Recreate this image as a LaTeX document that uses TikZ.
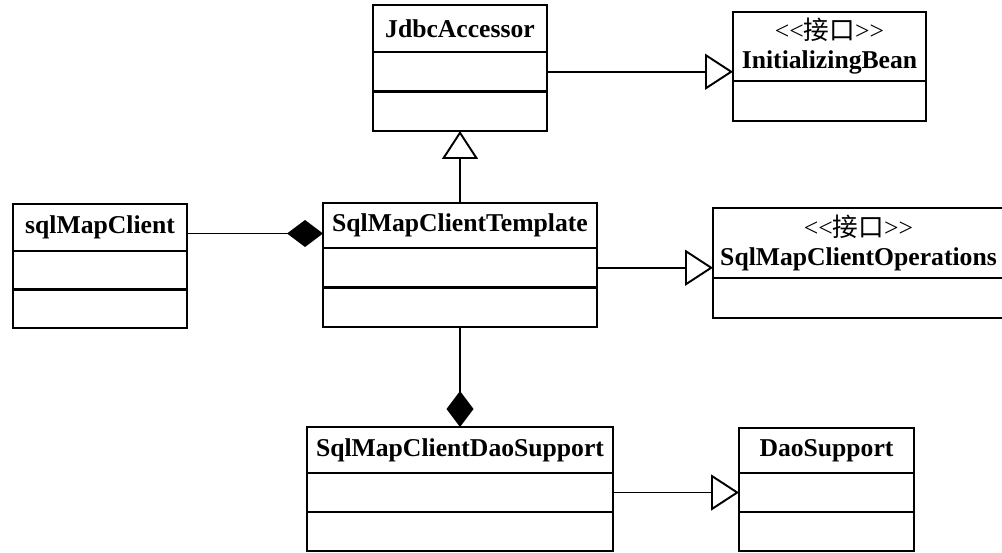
\documentclass[tikz,border=0pt]{standalone}
\usepackage{fontspec}
\setmainfont{Liberation Serif}
\newfontfamily\cjk{Noto Sans CJK SC}
\usepackage{tikz}
\usetikzlibrary{positioning, arrows.meta}
\tikzset{classname/.style={draw, rectangle, line width=1.5pt, inner sep=0pt, outer sep=0pt, align=center, font=\bfseries\fontsize{14.6}{16.5}\selectfont}}
\tikzset{classpart/.style={draw, rectangle, line width=1.5pt, inner sep=0pt, outer sep=0pt}}
\tikzset{inherit/.style={-{Triangle[open, length=0.56cm, width=0.72cm]}, line width=1.1pt}}
\tikzset{compose/.style={-{Diamond[length=0.72cm, width=0.54cm]}, line width=1.1pt}}

\begin{document}
\begin{tikzpicture}
\useasboundingbox (0,0) rectangle (20.04,-11.06);

\node[classname, minimum width=3.48cm, minimum height=0.94cm] (jdbc) at (9.2,-0.57) {JdbcAccessor};
\node[classpart, minimum width=3.48cm, minimum height=0.79cm, below = 0 of jdbc] (jdbc1) {};
\node[classpart, minimum width=3.48cm, minimum height=0.79cm, below = 0 of jdbc1] (jdbc2) {};

\node[classname, minimum width=3.86cm, minimum height=1.38cm] (ib) at (16.59,-0.93) {{\mdseries <{}<{\cjk 接口}>{}>}\\ InitializingBean};
\node[classpart, minimum width=3.86cm, minimum height=0.80cm, below = 0 of ib] (ib1) {};

\node[classname, minimum width=3.48cm, minimum height=0.94cm] (smc) at (2.0,-4.55) {sqlMapClient};
\node[classpart, minimum width=3.48cm, minimum height=0.77cm, below = 0 of smc] (smc1) {};
\node[classpart, minimum width=3.48cm, minimum height=0.77cm, below = 0 of smc1] (smc2) {};

\node[classname, minimum width=5.48cm, minimum height=0.90cm] (tpl) at (9.2,-4.51) {SqlMapClientTemplate};
\node[classpart, minimum width=5.48cm, minimum height=0.79cm, below = 0 of tpl] (tpl1) {};
\node[classpart, minimum width=5.48cm, minimum height=0.79cm, below = 0 of tpl1] (tpl2) {};

\node[classname, minimum width=5.82cm, minimum height=1.40cm] (ops) at (17.17,-4.86) {{\mdseries <{}<{\cjk 接口}>{}>}\\ SqlMapClientOperations};
\node[classpart, minimum width=5.82cm, minimum height=0.80cm, below = 0 of ops] (ops1) {};

\node[classname, minimum width=6.12cm, minimum height=0.92cm] (sds) at (9.2,-9.0) {SqlMapClientDaoSupport};
\node[classpart, minimum width=6.12cm, minimum height=0.78cm, below = 0 of sds] (sds1) {};
\node[classpart, minimum width=6.12cm, minimum height=0.78cm, below = 0 of sds1] (sds2) {};

\node[classname, minimum width=3.50cm, minimum height=0.90cm] (ds) at (16.53,-9.01) {DaoSupport};
\node[classpart, minimum width=3.50cm, minimum height=0.78cm, below = 0 of ds] (ds1) {};
\node[classpart, minimum width=3.50cm, minimum height=0.78cm, below = 0 of ds1] (ds2) {};

\draw[inherit] (jdbc1.east) -- (jdbc1.east -| ib.west);
\draw[inherit] (tpl.north) -- (jdbc2.south);
\draw[compose] ([yshift=-0.12cm]smc.east) -- ([yshift=-0.12cm]smc.east -| tpl.west);
\draw[inherit] (tpl1.east) -- (tpl1.east -| ops.west);
\draw[compose] (tpl2.south) -- (sds.north);
\draw[inherit] (sds1.east) -- (sds1.east -| ds.west);

\end{tikzpicture}
\end{document}
